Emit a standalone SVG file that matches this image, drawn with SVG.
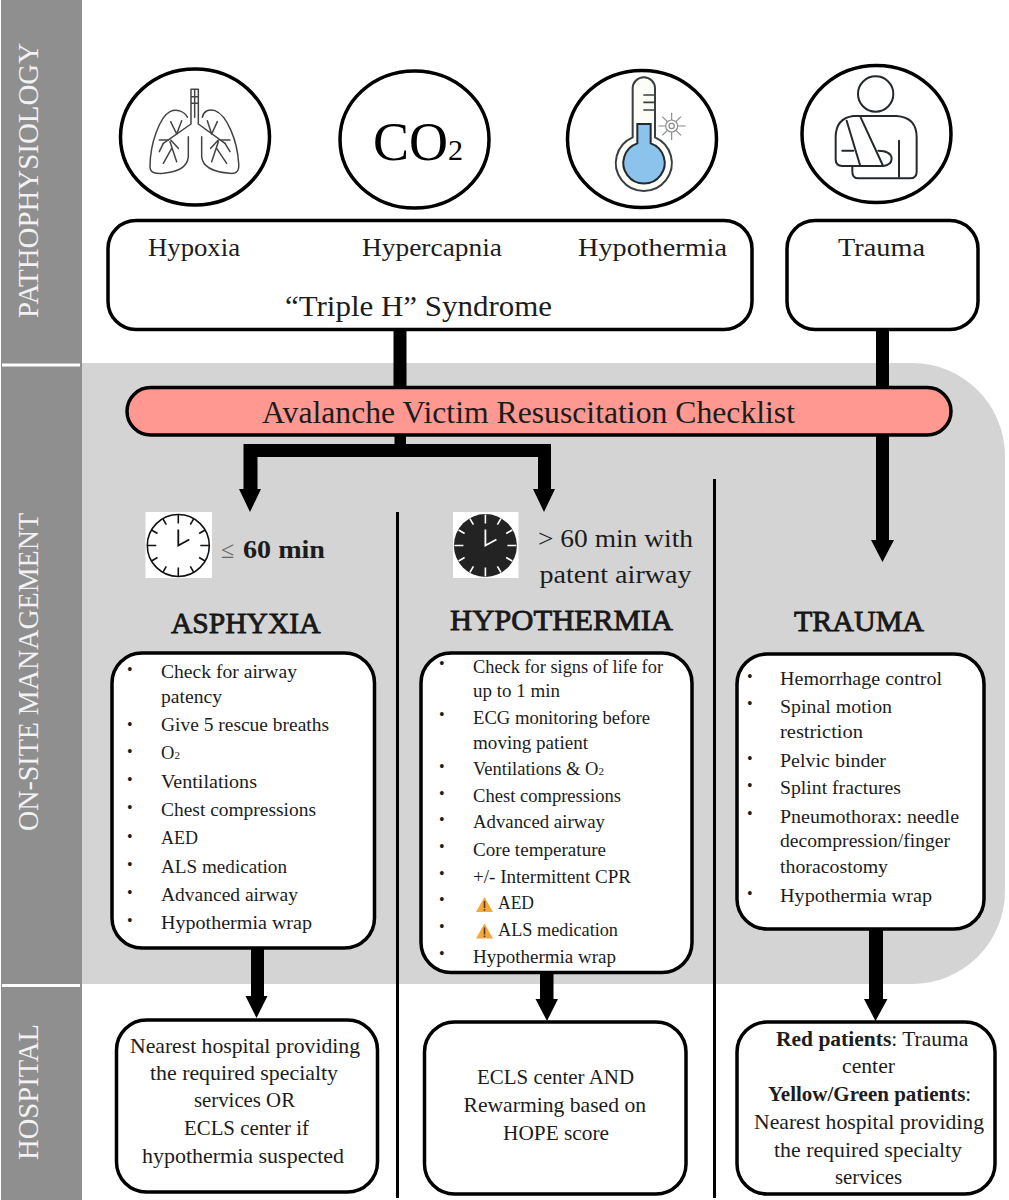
<svg xmlns="http://www.w3.org/2000/svg" width="1009" height="1200" viewBox="0 0 1009 1200">
<style>
text{font-family:"Liberation Serif","Times New Roman",serif;fill:#1c1c1c}
.box{fill:#fff;stroke:#000;stroke-width:3.5}
.ring{fill:#fff;stroke:#000;stroke-width:3.5}
.band{fill:#8f8f8f}
.sec{fill:#f2f2f2;font-size:30px}
.li{font-size:18.5px}
.bu{font-size:16px;fill:#000}
.lbl{font-size:26px}
.hosp{font-size:21.5px}
.head{font-size:30px;stroke:#111;stroke-width:.8}
.wire{fill:#000}
.rule{stroke:#000;stroke-width:3;fill:none}
.ico{fill:none;stroke:#23292c;stroke-linecap:round;stroke-linejoin:round}
</style>
<defs>
<g id="warn">
<path d="M8.500 0L17 15H0Z" fill="#f4a83c"/>
<rect x="7.700" y="4" width="1.600" height="7" fill="#5a3a10"/>
<rect x="7.700" y="12" width="1.600" height="1.600" fill="#5a3a10"/>
</g>
<g id="ticks">
<path d="M0-31V-22M0 31V22M-31 0H-22M31 0H22M15.500-26.800L12-20.800M-15.500-26.800L-12-20.800M15.500 26.800L12 20.800M-15.500 26.800L-12 20.800M26.800-15.500L20.800-12M-26.800-15.500L-20.800-12M26.800 15.500L20.800 12M-26.800 15.500L-20.800 12" fill="none" stroke-width="1.600"/>
<path d="M0-16V0L11-6" fill="none" stroke-width="1.800"/>
</g>
</defs>

<g id="bands">
<rect class="band" x="1" y="0" width="81" height="1200"/>
<rect x="2" y="363.500" width="78" height="3" fill="#fff"/>
<rect x="2" y="984" width="78" height="3" fill="#fff"/>
<text class="sec" transform="translate(38 318) rotate(-90)" textLength="275" lengthAdjust="spacingAndGlyphs">PATHOPHYSIOLOGY</text>
<text class="sec" transform="translate(38 831) rotate(-90)" textLength="318" lengthAdjust="spacingAndGlyphs">ON-SITE MANAGEMENT</text>
<text class="sec" transform="translate(38 1160) rotate(-90)" textLength="136" lengthAdjust="spacingAndGlyphs">HOSPITAL</text>
</g>
<path id="panel" d="M82 363H912A93 93 0 0 1 1005 456V891A93 93 0 0 1 912 984H82Z" fill="#d4d4d4"/>

<g id="connectors">
<path class="wire" d="M393.500 329H406.500V388H393.500Z"/>
<path class="wire" d="M876 329H889V540H894L882.500 562L871 540H876Z"/>
<path class="wire" d="M394.500 434H406V444H551V489H555L544 512L533 489H538V457H257.500V489H261L250 512L239 489H243.500V444H394.500Z"/>
<path class="wire" d="M251 947H264V996H267.500L256.500 1018L245.500 996H251Z"/>
<path class="wire" d="M540 971H553.500V999H558L547 1021L535.500 999H540Z"/>
<path class="wire" d="M869 928H883V999H887.500L875.500 1021L864 999H869Z"/>
<path class="rule" d="M397.500 512V1198M714.500 479V1198"/>
</g>

<g id="node-hypoxia-icon">
<ellipse class="ring" cx="195" cy="137" rx="74.500" ry="68"/>
<g class="ico" transform="scale(.33333)" stroke-width="4.500" style="stroke:#444">
<path d="M562 352C555 335 530 325 510 335C480 350 450 430 450 500C450 520 470 522 490 520C530 515 562 505 565 470V410"/>
<path d="M605 410V470C608 505 650 517 690 520C712 522 718 510 716 490C712 420 680 345 645 332C625 325 610 335 607 352"/>
<path d="M573 268H595M573 268V372L490 430M595 268V372L675 430M584 268V352M573 290H595M573 310H595"/>
<path d="M490 430L478 455M530 402L512 365M530 402L545 362M505 420H478M512 420L535 445M510 425L530 485M515 445L490 490"/>
<path d="M675 430L690 455M635 402L652 365M635 402L622 362M660 420H690M655 420L632 445M655 425L635 485M650 445L680 490"/>
</g>
</g>
<g id="node-co2-icon">
<ellipse class="ring" cx="414.500" cy="139.500" rx="74.500" ry="68.500"/>
<text x="373" y="160" font-size="54" style="fill:#000">CO<tspan font-size="30">2</tspan></text>
</g>
<g id="node-hypothermia-icon">
<ellipse class="ring" cx="642" cy="139" rx="74.500" ry="68.500"/>
<g transform="translate(520 0) scale(.33333)">
<path d="M338 265A33 33 0 0 1 405 265V412A84 84 0 1 1 338 412Z" fill="#fdfdf8" stroke="#3a3f42" stroke-width="6"/>
<path d="M352 372H392V430A62 62 0 1 1 352 430Z" fill="#8cc3ec" stroke="#23292c" stroke-width="6"/>
<path d="M370 285H402M370 307H402M370 330H402" stroke="#3a3f42" stroke-width="5" fill="none"/>
<g stroke="#8a8a8a" stroke-width="3.500" fill="none">
<circle cx="455" cy="378" r="18"/><circle cx="455" cy="378" r="8"/>
<path d="M455 338V360M455 396V420M415 378H437M473 378H497M427 350L442 365M483 350L468 365M427 406L442 391M483 406L468 391"/>
</g>
</g>
</g>
<g id="node-trauma-icon">
<ellipse class="ring" cx="876.500" cy="134" rx="74.500" ry="68.500"/>
<g class="ico" transform="translate(520 0) scale(.33333)" stroke-width="6">
<circle cx="1067" cy="282" r="53"/>
<path d="M1000 348H1130Q1190 352 1190 412V515Q1190 535 1170 535H1015Q997 535 997 515V500"/>
<path d="M1000 348Q947 355 947 412V478Q947 498 967 498H1090Q1115 495 1115 475Q1112 452 1075 452"/>
<path d="M980 362L1020 495M1022 352L1088 495M967 452H1000M1137 422V530"/>
</g>
</g>

<g id="node-triple-h">
<rect class="box" x="108" y="220.500" width="644" height="109" rx="28"/>
<text class="lbl" x="148" y="256" textLength="92" lengthAdjust="spacingAndGlyphs">Hypoxia</text>
<text class="lbl" x="362" y="256" textLength="140" lengthAdjust="spacingAndGlyphs">Hypercapnia</text>
<text class="lbl" x="578" y="256" textLength="149" lengthAdjust="spacingAndGlyphs">Hypothermia</text>
<text x="285" y="316" font-size="29" textLength="267" lengthAdjust="spacingAndGlyphs">“Triple H” Syndrome</text>
</g>
<g id="node-trauma-top">
<rect class="box" x="787" y="220.500" width="191" height="109" rx="28"/>
<text class="lbl" x="838" y="256" textLength="87" lengthAdjust="spacingAndGlyphs">Trauma</text>
</g>

<g id="node-checklist">
<rect x="127" y="387.500" width="824" height="47.500" rx="23.700" fill="#fe9890" stroke="#000" stroke-width="3.500"/>
<text x="262" y="423" font-size="31" textLength="533" lengthAdjust="spacingAndGlyphs">Avalanche Victim Resuscitation Checklist</text>
</g>

<g id="node-time-asphyxia">
<rect x="145.500" y="512" width="66.500" height="66" fill="#fff"/>
<circle cx="178.300" cy="545.500" r="31" fill="#fff" stroke="#111" stroke-width="1.600"/>
<use href="#ticks" x="178.300" y="545.500" stroke="#111"/>
<text x="221" y="558" font-size="24" style="fill:#666">≤</text>
<text x="243" y="558" font-size="26" textLength="82" lengthAdjust="spacingAndGlyphs" font-weight="bold">60 min</text>
</g>
<g id="node-time-hypothermia">
<rect x="453" y="512" width="65.500" height="66" fill="#fff"/>
<circle cx="485.400" cy="545.500" r="31.500" fill="#232323"/>
<use href="#ticks" x="485.400" y="545.500" stroke="#fff"/>
<text class="lbl" x="538" y="547" textLength="155" lengthAdjust="spacingAndGlyphs">&gt; 60 min with</text>
<text class="lbl" x="539.500" y="583" textLength="152" lengthAdjust="spacingAndGlyphs">patent airway</text>
</g>

<g id="node-asphyxia">
<text class="head" x="171" y="633" textLength="149.500" lengthAdjust="spacingAndGlyphs">ASPHYXIA</text>
<rect class="box" x="112" y="653" width="262.500" height="295" rx="30"/>
<g class="li">
<text x="161" y="677.500" textLength="136" lengthAdjust="spacingAndGlyphs">Check for airway</text>
<text x="161" y="703" textLength="61" lengthAdjust="spacingAndGlyphs">patency</text>
<text x="161" y="731" textLength="168" lengthAdjust="spacingAndGlyphs">Give 5 rescue breaths</text>
<text x="161" y="759">O<tspan font-size="11">2</tspan></text>
<text x="161" y="788" textLength="96" lengthAdjust="spacingAndGlyphs">Ventilations</text>
<text x="161" y="816" textLength="155" lengthAdjust="spacingAndGlyphs">Chest compressions</text>
<text x="161" y="844" textLength="37" lengthAdjust="spacingAndGlyphs">AED</text>
<text x="161" y="873" textLength="126" lengthAdjust="spacingAndGlyphs">ALS medication</text>
<text x="161" y="901" textLength="137" lengthAdjust="spacingAndGlyphs">Advanced airway</text>
<text x="161" y="929" textLength="151" lengthAdjust="spacingAndGlyphs">Hypothermia wrap</text>
</g>
<g class="bu">
<text x="127" y="675">•</text><text x="127" y="730">•</text><text x="127" y="757">•</text><text x="127" y="785">•</text><text x="127" y="813">•</text><text x="127" y="842">•</text><text x="127" y="870">•</text><text x="127" y="898">•</text><text x="127" y="926">•</text>
</g>
</g>

<g id="node-hypothermia">
<text class="head" x="450" y="630" textLength="223" lengthAdjust="spacingAndGlyphs">HYPOTHERMIA</text>
<rect class="box" x="421" y="653" width="271" height="319.500" rx="30"/>
<g class="li">
<text x="473" y="673" textLength="190" lengthAdjust="spacingAndGlyphs">Check for signs of life for</text>
<text x="473" y="697" textLength="87" lengthAdjust="spacingAndGlyphs">up to 1 min</text>
<text x="473" y="724" textLength="177" lengthAdjust="spacingAndGlyphs">ECG monitoring before</text>
<text x="473" y="749" textLength="115" lengthAdjust="spacingAndGlyphs">moving patient</text>
<text x="473" y="775">Ventilations &amp; O<tspan font-size="11">2</tspan></text>
<text x="473" y="802" textLength="148" lengthAdjust="spacingAndGlyphs">Chest compressions</text>
<text x="473" y="828" textLength="132" lengthAdjust="spacingAndGlyphs">Advanced airway</text>
<text x="473" y="856" textLength="133" lengthAdjust="spacingAndGlyphs">Core temperature</text>
<text x="473" y="883" textLength="158" lengthAdjust="spacingAndGlyphs">+/- Intermittent CPR</text>
<text x="498" y="909" textLength="36" lengthAdjust="spacingAndGlyphs">AED</text>
<text x="498" y="936" textLength="120" lengthAdjust="spacingAndGlyphs">ALS medication</text>
<text x="473" y="963" textLength="143" lengthAdjust="spacingAndGlyphs">Hypothermia wrap</text>
</g>
<use href="#warn" x="476" y="897"/>
<use href="#warn" x="476" y="923.500"/>
<g class="bu">
<text x="439" y="669">•</text><text x="439" y="720">•</text><text x="439" y="772">•</text><text x="439" y="799">•</text><text x="439" y="825">•</text><text x="439" y="852">•</text><text x="439" y="879">•</text><text x="439" y="905">•</text><text x="439" y="932">•</text><text x="439" y="959">•</text>
</g>
</g>

<g id="node-trauma">
<text class="head" x="794" y="631" textLength="130" lengthAdjust="spacingAndGlyphs">TRAUMA</text>
<rect class="box" x="737" y="654" width="247" height="275" rx="30"/>
<g class="li">
<text x="780" y="685" textLength="162" lengthAdjust="spacingAndGlyphs">Hemorrhage control</text>
<text x="780" y="713" textLength="112" lengthAdjust="spacingAndGlyphs">Spinal motion</text>
<text x="780" y="738" textLength="83" lengthAdjust="spacingAndGlyphs">restriction</text>
<text x="780" y="767" textLength="106" lengthAdjust="spacingAndGlyphs">Pelvic binder</text>
<text x="780" y="794" textLength="121" lengthAdjust="spacingAndGlyphs">Splint fractures</text>
<text x="780" y="823" textLength="179" lengthAdjust="spacingAndGlyphs">Pneumothorax: needle</text>
<text x="780" y="847" textLength="170" lengthAdjust="spacingAndGlyphs">decompression/finger</text>
<text x="780" y="873" textLength="108" lengthAdjust="spacingAndGlyphs">thoracostomy</text>
<text x="780" y="902" textLength="152" lengthAdjust="spacingAndGlyphs">Hypothermia wrap</text>
</g>
<g class="bu">
<text x="747" y="682">•</text><text x="747" y="709">•</text><text x="747" y="764">•</text><text x="747" y="791">•</text><text x="747" y="819">•</text><text x="747" y="899">•</text>
</g>
</g>

<g id="node-hospital-asphyxia">
<rect class="box" x="116.500" y="1020" width="261" height="172" rx="30"/>
<g class="hosp">
<text x="130" y="1053" textLength="230" lengthAdjust="spacingAndGlyphs">Nearest hospital providing</text>
<text x="150" y="1080" textLength="188" lengthAdjust="spacingAndGlyphs">the required specialty</text>
<text x="194" y="1107" textLength="101" lengthAdjust="spacingAndGlyphs">services OR</text>
<text x="184" y="1135" textLength="125" lengthAdjust="spacingAndGlyphs">ECLS center if</text>
<text x="142" y="1163" textLength="202" lengthAdjust="spacingAndGlyphs">hypothermia suspected</text>
</g>
</g>
<g id="node-hospital-hypothermia">
<rect class="box" x="424.500" y="1022" width="261.500" height="172" rx="30"/>
<g class="hosp">
<text x="477" y="1084" textLength="157" lengthAdjust="spacingAndGlyphs">ECLS center AND</text>
<text x="463.500" y="1112" textLength="182.500" lengthAdjust="spacingAndGlyphs">Rewarming based on</text>
<text x="503" y="1140" textLength="106" lengthAdjust="spacingAndGlyphs">HOPE score</text>
</g>
</g>
<g id="node-hospital-trauma">
<rect class="box" x="737" y="1022" width="258" height="172" rx="30"/>
<g class="hosp">
<text x="776" y="1046"><tspan font-weight="bold">Red patients</tspan>: Trauma</text>
<text x="842" y="1073" textLength="53" lengthAdjust="spacingAndGlyphs">center</text>
<text x="768" y="1101" font-size="21"><tspan font-weight="bold">Yellow/Green patients</tspan>:</text>
<text x="754" y="1129" textLength="230" lengthAdjust="spacingAndGlyphs">Nearest hospital providing</text>
<text x="774" y="1157" textLength="188" lengthAdjust="spacingAndGlyphs">the required specialty</text>
<text x="835" y="1184" textLength="67" lengthAdjust="spacingAndGlyphs">services</text>
</g>
</g>
</svg>
